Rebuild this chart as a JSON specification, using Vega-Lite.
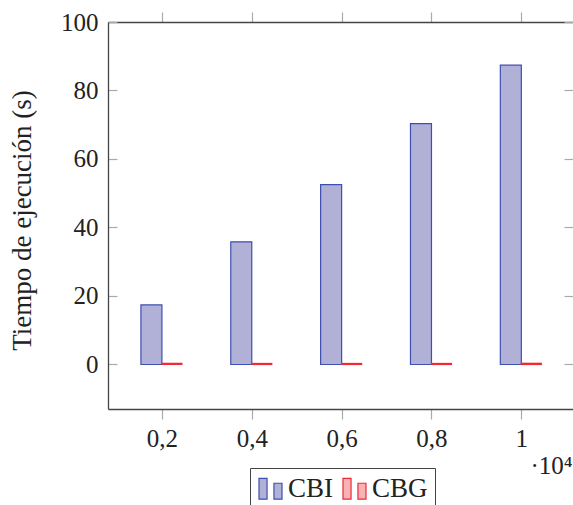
{
  "$schema": "https://vega.github.io/schema/vega-lite/v6.json",
  "width": 465,
  "height": 387,
  "autosize": {"type": "none"},
  "padding": {"left": 108, "top": 22, "right": 0, "bottom": 96},
  "background": "white",
  "config": {
    "font": "Liberation Serif, DejaVu Serif, serif",
    "view": {"stroke": null},
    "axis": {
      "domain": true,
      "domainColor": "#444444",
      "domainWidth": 1.3,
      "grid": false,
      "tickColor": "#aaaaaa",
      "tickWidth": 1.2,
      "labelFont": "Liberation Serif, DejaVu Serif, serif",
      "labelFontSize": 25,
      "labelColor": "#222222",
      "titleFont": "Liberation Serif, DejaVu Serif, serif",
      "titleFontSize": 27,
      "titleFontWeight": "normal",
      "titleColor": "#222222"
    },
    "legend": {
      "labelFont": "Liberation Serif, DejaVu Serif, serif",
      "labelFontSize": 27,
      "labelColor": "#222222"
    }
  },
  "data": {
    "values": [
      {"n": 2000, "serie": "CBI", "t": 17.4},
      {"n": 4000, "serie": "CBI", "t": 35.8},
      {"n": 6000, "serie": "CBI", "t": 52.5},
      {"n": 8000, "serie": "CBI", "t": 70.3},
      {"n": 10000, "serie": "CBI", "t": 87.4},
      {"n": 2000, "serie": "CBG", "t": 0.3},
      {"n": 4000, "serie": "CBG", "t": 0.3},
      {"n": 6000, "serie": "CBG", "t": 0.3},
      {"n": 8000, "serie": "CBG", "t": 0.3},
      {"n": 10000, "serie": "CBG", "t": 0.35}
    ]
  },
  "resolve": {"axis": {"x": "independent", "y": "independent"}},
  "layer": [
    {
      "transform": [{"filter": "datum.serie == 'CBI'"}],
      "mark": {"type": "bar", "width": 21, "xOffset": -10.5, "strokeWidth": 1.2},
      "encoding": {
        "x": {
          "field": "n", "type": "quantitative",
          "scale": {"domain": [800, 11150], "nice": false, "zero": false, "padding": 0},
          "axis": {
            "orient": "bottom",
            "values": [2000, 4000, 6000, 8000, 10000],
            "tickSize": 10,
            "labelPadding": 7,
            "labelExpr": "datum.value == 10000 ? '1' : replace(format(datum.value / 10000, '.1f'), '.', ',')",
            "title": "·10⁴",
            "titleX": 443,
            "titleY": 56,
            "titleAlign": "center",
            "titleBaseline": "middle",
            "titleFontSize": 25,
            "titleAnchor": null
          }
        },
        "y": {
          "field": "t", "type": "quantitative",
          "scale": {"domain": [-13, 100], "nice": false, "zero": false, "padding": 0},
          "axis": {
            "orient": "left",
            "values": [0, 20, 40, 60, 80, 100],
            "tickSize": -9,
            "labelPadding": 19,
            "title": "Tiempo de ejecución (s)",
            "titleX": -86,
            "titleY": 198,
            "titleAngle": -90,
            "titleAlign": "center",
            "titleBaseline": "middle",
            "titleAnchor": null
          }
        },
        "fill": {
          "field": "serie", "type": "nominal",
          "scale": {"domain": ["CBI", "CBG"], "range": ["#b1b1d8", "#f6b2b4"]},
          "legend": {
            "orient": "none",
            "legendX": 142,
            "legendY": 446,
            "direction": "horizontal",
            "title": null,
            "strokeColor": "#444444",
            "padding": 7,
            "symbolType": "M-1,-0.91H-0.3V0.91H-1Z M0.3,-0.48H1V0.91H0.3Z",
            "symbolSize": 529,
            "symbolStrokeWidth": 1.2,
            "labelOffset": 4,
            "columnPadding": 6
          }
        },
        "stroke": {
          "field": "serie", "type": "nominal",
          "scale": {"domain": ["CBI", "CBG"], "range": ["#3d4fb0", "#ee2a36"]},
          "legend": null
        }
      }
    },
    {
      "transform": [{"filter": "datum.serie == 'CBG'"}],
      "mark": {"type": "bar", "width": 20, "xOffset": 10, "strokeWidth": 1.2},
      "encoding": {
        "x": {
          "field": "n", "type": "quantitative",
          "axis": {
            "orient": "top",
            "values": [2000, 4000, 6000, 8000, 10000],
            "tickSize": 10,
            "labels": false,
            "title": null
          }
        },
        "y": {
          "field": "t", "type": "quantitative",
          "axis": {
            "orient": "right",
            "domain": false,
            "values": [0, 20, 40, 60, 80, 100],
            "tickSize": -9,
            "labels": false,
            "title": null
          }
        },
        "fill": {"field": "serie", "type": "nominal"},
        "stroke": {"field": "serie", "type": "nominal"}
      }
    }
  ]
}
